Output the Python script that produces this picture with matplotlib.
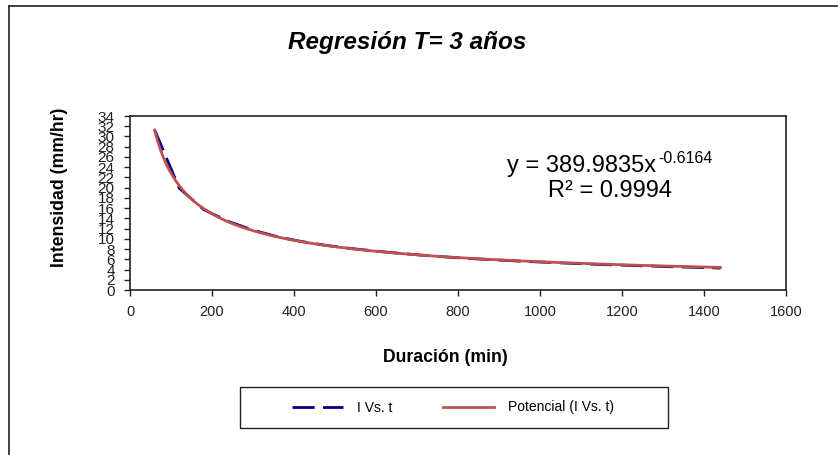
import numpy as np
import matplotlib
matplotlib.use("Agg")
import matplotlib.pyplot as plt
from matplotlib.lines import Line2D
from matplotlib.patches import Rectangle

plt.rcParams['font.family'] = ['Liberation Sans', 'DejaVu Sans']

# datos
duracion = [60, 120, 180, 240, 300, 360, 420, 480, 540, 600, 660, 720,
            780, 840, 900, 960, 1020, 1080, 1140, 1200, 1260, 1320, 1380, 1440]
intensidad = [31.3, 19.9, 15.7, 13.4, 11.7, 10.4, 9.45, 8.7, 8.1, 7.6, 7.15, 6.75,
              6.4, 6.1, 5.85, 5.6, 5.4, 5.2, 5.0, 4.85, 4.7, 4.55, 4.42, 4.28]
coef_a = 389.9835
coef_b = -0.6164
r2 = 0.9994

x_ticks = [0, 200, 400, 600, 800, 1000, 1200, 1400, 1600]
y_ticks = list(range(0, 36, 2))

W, H = 838, 455
fig = plt.figure(figsize=(W / 100, H / 100), dpi=100)
ax = fig.add_axes([130 / W, 1 - 290 / H, (786 - 130) / W, (290 - 116) / H])

def px(x, y):
    # pixeles (desde arriba-izquierda) a coordenadas de figura
    return x / W, 1 - y / H

# curva de tendencia potencial
xs = np.linspace(duracion[0], duracion[-1], 300)
ys = coef_a * xs ** coef_b

ax.plot(duracion, intensidad, color='#000080', lw=2, ls=(0, (8, 3)), label='I Vs. t')
ax.plot(xs, ys, color='#C0504D', lw=2, label='Potencial (I Vs. t)')

ax.set_xlim(0, 1600)
ax.set_ylim(0, 34)
ax.set_xticks(x_ticks)
ax.set_yticks(y_ticks)
ax.tick_params(axis='both', direction='out', length=4, width=1, labelsize=10.5, pad=7, colors='#222222')
ax.tick_params(axis='y', labelsize=11)
for s in ax.spines.values():
    s.set_color('#222222')
    s.set_linewidth(1.2)

# ecuacion y R2
fig.text(*px(507, 172), 'y = %.4fx' % coef_a, fontsize=17, ha='left', va='baseline')
fig.text(*px(658, 163), '%.4f' % coef_b, fontsize=11.5, ha='left', va='baseline')
fig.text(*px(610, 197), 'R² = %.4f' % r2, fontsize=17, ha='center', va='baseline')

fig.text(*px(407, 43), 'Regresión T= 3 años', fontsize=17.5, fontweight='bold', fontstyle='italic',
         ha='center', va='center')
fig.text(*px(445, 357), 'Duración (min)', fontsize=12.7, fontweight='bold', ha='center', va='center')
fig.text(*px(59, 187), 'Intensidad (mm/hr)', fontsize=12.7, fontweight='bold', ha='center', va='center',
         rotation=90)

# leyenda con marco dibujado aparte
leg = ax.legend(loc='center left', bbox_to_anchor=px(292, 407.5), bbox_transform=fig.transFigure,
                ncol=2, fontsize=10, frameon=False, borderpad=0, borderaxespad=0,
                handlelength=3.7, columnspacing=3.6, handletextpad=1.0)
fig.add_artist(Rectangle(px(240, 428), (668 - 240) / W, 41 / H, transform=fig.transFigure,
                         fill=False, edgecolor='#222222', lw=1.0))

# borde exterior del grafico
fig.add_artist(Line2D([9 / W, 9 / W], [0, 1 - 6 / H], color='#222222', lw=1.2, transform=fig.transFigure))
fig.add_artist(Line2D([9 / W, 837 / W], [1 - 6 / H, 1 - 6 / H], color='#222222', lw=1.2, transform=fig.transFigure))

fig.savefig('out.png', dpi=100)
